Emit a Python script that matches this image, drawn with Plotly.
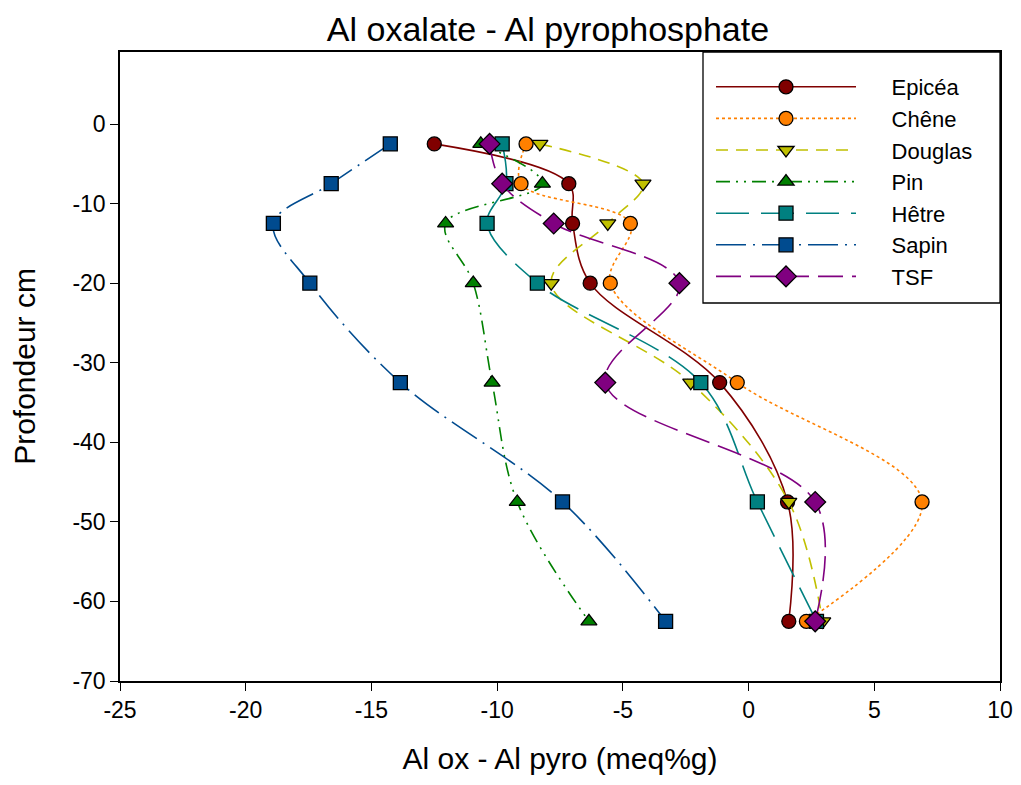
import plotly.graph_objects as go

depth = [-2.5, -7.5, -12.5, -20, -32.5, -47.5, -62.5]

epicea = [-12.5, -7.15, -7.0, -6.3, -1.15, 1.55, 1.6]
chene = [-8.85, -9.05, -4.7, -5.5, -0.45, 6.9, 2.3]
douglas = [-8.3, -4.2, -5.6, -7.85, -2.3, 1.6, 2.95]
pin = [-10.65, -8.2, -12.05, -10.95, -10.2, -9.2, -6.35]
hetre = [-9.8, -9.65, -10.4, -8.4, -1.9, 0.35, 2.7]
sapin = [-14.25, -16.6, -18.9, -17.45, -13.85, -7.4, -3.3]
tsf = [-10.3, -9.8, -7.75, -2.75, -5.7, 2.65, 2.65]

series = [
    ("Epicéa", epicea, "#800000", "solid", "circle"),
    ("Chêne", chene, "#FF8000", "dot", "circle"),
    ("Douglas", douglas, "#C0C000", "12px,8px", "triangle-down"),
    ("Pin", pin, "#008000", "14px,6px,2px,6px,2px,6px", "triangle-up"),
    ("Hêtre", hetre, "#008080", "33px,12px", "square"),
    ("Sapin", sapin, "#004B8F", "30px,7px,2px,7px", "square"),
    ("TSF", tsf, "#800080", "25px,9px", "diamond"),
]

xticks = [-25, -20, -15, -10, -5, 0, 5, 10]
yticks = [0, -10, -20, -30, -40, -50, -60, -70]

FONT = "Liberation Sans, Arial, sans-serif"
PAD = "\u00a0" * 5

# page has an 8px body offset; plot area target (page px): x 120..1000, y 52..681
W, H = 1021, 785
ML, MT = 112, 44
PW, PH = 880, 629
MR = W - ML - PW
MB = H - MT - PH

fig = go.Figure()
for name, xs, col, dash, sym in series:
    fig.add_trace(go.Scatter(
        x=xs, y=depth, name=PAD + name, mode="lines+markers",
        line=dict(color=col, width=1.6, dash=dash, shape="spline", smoothing=1.0),
        marker=dict(symbol=sym, size=14 if sym != "diamond" else 16, color=col,
                    line=dict(color="black", width=1.3)),
    ))

# legend frame (page px 703..1000 x 52..303)
fig.add_shape(type="rect", xref="paper", yref="paper",
              x0=(703 - 120) / PW, x1=1.0, y0=(681 - 303) / PH, y1=1.0,
              line=dict(color="black", width=1.3), fillcolor="white", layer="above")

fig.update_layout(
    width=W, height=H,
    margin=dict(l=ML, r=MR, t=MT, b=MB, autoexpand=False),
    paper_bgcolor="white", plot_bgcolor="white",
    font=dict(family=FONT, color="black"),
    title=dict(text="Al oxalate - Al pyrophosphate", x=540 / W, xanchor="center",
               y=0.988, yanchor="top", font=dict(size=34), automargin=False),
    showlegend=True,
    legend=dict(x=(711 - 120) / PW, xanchor="left", y=(681 - 66) / PH, yanchor="top",
                borderwidth=0, bgcolor="rgba(0,0,0,0)",
                font=dict(size=22), itemwidth=140, tracegroupgap=0),
)
fig.update_xaxes(range=[-25, 10], tickvals=xticks, ticktext=[str(v) for v in xticks],
                 showgrid=False, zeroline=False, showline=True, linecolor="black",
                 linewidth=1.5, mirror=True, ticks="outside", ticklen=8, automargin=False,
                 tickcolor="black", tickfont=dict(size=23),
                 title=dict(text="Al ox - Al pyro (meq%g)", font=dict(size=30), standoff=26))
fig.update_yaxes(range=[-70, 9.05], tickvals=yticks, ticktext=[str(v) for v in yticks],
                 showgrid=False, zeroline=False, showline=True, linecolor="black",
                 linewidth=1.5, mirror=True, ticks="outside", ticklen=8, automargin=False,
                 tickcolor="black", tickfont=dict(size=23),
                 title=dict(text="Profondeur cm", font=dict(size=30), standoff=30))

fig.write_html("out.html")
